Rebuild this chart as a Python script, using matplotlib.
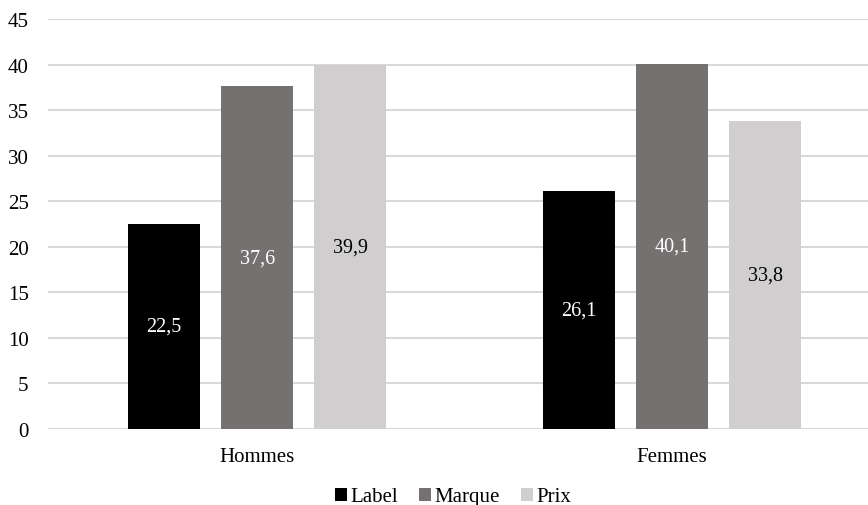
import matplotlib
matplotlib.use("Agg")
import matplotlib.pyplot as plt
import numpy as np

categories = ["Hommes", "Femmes"]
series_names = ["Label", "Marque", "Prix"]
label_vals = [22.5, 26.1]
marque_vals = [37.6, 40.1]
prix_vals = [39.9, 33.8]
yticks = [0, 5, 10, 15, 20, 25, 30, 35, 40, 45]

colors = ["#000000", "#767171", "#d0cece"]
text_colors = ["white", "white", "black"]

plt.rcParams["font.family"] = ["Liberation Serif", "DejaVu Serif"]

fig = plt.figure(figsize=(8.68, 5.06), dpi=100)
ax = fig.add_axes([48 / 868, 76 / 506, 1 - 48 / 868, 410 / 506])

x = np.arange(len(categories))
width = 0.1735
step = 0.224
series = [label_vals, marque_vals, prix_vals]
handles = []
for i, (name, vals) in enumerate(zip(series_names, series)):
    pos = x + (i - 1) * step
    bars = ax.bar(pos, vals, width, color=colors[i], label=name, zorder=3)
    handles.append(bars)
    for b, v in zip(bars, vals):
        ax.text(b.get_x() + b.get_width() / 2, v / 2, f"{v:.1f}".replace(".", ","),
                ha="center", va="center", color=text_colors[i], fontsize=14.5, zorder=4)

ax.set_xlim(-0.504, 1.472)
ax.set_ylim(0, 45)
ax.set_yticks(yticks)
ax.set_yticklabels([str(t) for t in yticks], fontsize=15)
ax.set_xticks(x)
ax.set_xticklabels(categories, fontsize=15)
ax.tick_params(axis="both", length=0)
ax.tick_params(axis="y", pad=14)
ax.tick_params(axis="x", pad=13)
ax.grid(axis="y", color="#d9d9d9", linewidth=1.5, zorder=0)
for s in ax.spines.values():
    s.set_visible(False)

fig.legend(handles=handles, labels=series_names, loc="center",
           bbox_to_anchor=(453 / 868, 1 - 498 / 506), ncol=3, frameon=False,
           fontsize=15, handlelength=0.6, handleheight=0.6, handletextpad=0.15,
           columnspacing=1.0, borderaxespad=0)

fig.savefig("out.png", dpi=100)
